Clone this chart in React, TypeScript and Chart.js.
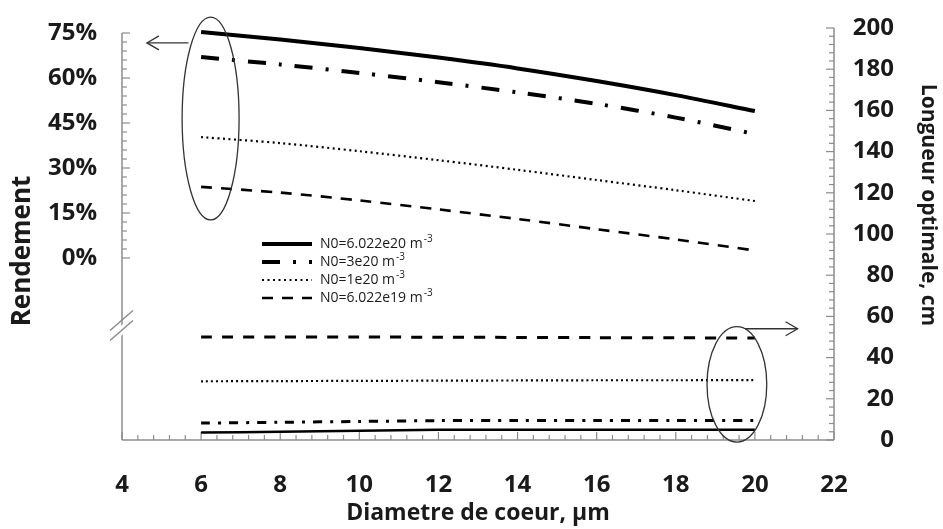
import React, { useEffect, useRef } from 'react';
import { Chart, registerables } from 'chart.js';

Chart.register(...registerables);

// ---------- data ----------
const diametres = [6, 8, 10, 12, 14, 16, 18, 20];
const seriesLabels = ['N0=6.022e20 m-3', 'N0=3e20 m-3', 'N0=1e20 m-3', 'N0=6.022e19 m-3'];

const rendement_6022e20 = [75.3, 72.8, 70.0, 66.8, 63.2, 59.0, 54.3, 49.0];
const rendement_3e20 = [67.0, 64.5, 61.7, 58.6, 55.2, 51.4, 46.8, 41.3];
const rendement_1e20 = [40.3, 38.3, 35.6, 32.6, 29.4, 26.0, 22.6, 19.0];
const rendement_6022e19 = [23.7, 21.8, 19.2, 16.2, 13.0, 9.6, 6.2, 2.5];

const longueur_6022e20 = [3.6, 4.0, 4.5, 5.0, 5.0, 5.0, 5.0, 5.0];
const longueur_3e20 = [8.2, 8.6, 9.0, 9.4, 9.5, 9.5, 9.5, 9.5];
const longueur_1e20 = [28.5, 28.6, 28.7, 28.8, 28.9, 29.0, 29.0, 29.1];
const longueur_6022e19 = [50.0, 50.0, 50.0, 49.9, 49.8, 49.7, 49.6, 49.5];

const rendementTicks = [0, 15, 30, 45, 60, 75];
const xTitle = 'Diametre de coeur, µm';
const leftTitle = 'Rendement';
const rightTitle = 'Longueur optimale, cm';

// ---------- styles ----------
const topStyles = [
  { w: 4, dash: [] as number[] },
  { w: 4, dash: [18, 13, 3, 13] },
  { w: 2.2, dash: [2, 3.5] },
  { w: 2.6, dash: [11, 9] },
];
const bottomStyles = [
  { w: 2.5, dash: [] as number[] },
  { w: 3, dash: [9, 8, 3, 8] },
  { w: 2.2, dash: [2, 3] },
  { w: 3, dash: [11, 10] },
];

const TICK_FONT = { family: '"Open Sans", sans-serif', size: 24, weight: 'bold' as const };
const TEXT = '#1a1a1a';
const AXIS = '#8c8c8c';

const toPts = (ys: number[]) => diametres.map((x, i) => ({ x, y: ys[i] }));

const noPad = (s: any) => {
  s.paddingTop = 0;
  s.paddingBottom = 0;
  s.paddingLeft = 0;
  s.paddingRight = 0;
};

const decorPlugin = {
  id: 'decor',
  beforeDatasetsDraw(chart: any) {
    const { ctx, scales, chartArea: a } = chart;
    const xs = scales.x, yl = scales.y, yr = scales.y2;
    ctx.save();
    ctx.strokeStyle = AXIS;
    ctx.lineWidth = 1.5;
    const ln = (x1: number, y1: number, x2: number, y2: number) => {
      ctx.beginPath(); ctx.moveTo(x1, y1); ctx.lineTo(x2, y2); ctx.stroke();
    };
    // axis lines
    ln(a.left, yl.getPixelForValue(75), a.left, a.bottom);
    ln(a.right, yr.getPixelForValue(200), a.right, a.bottom);
    ln(a.left, a.bottom, a.right, a.bottom);
    ctx.lineWidth = 1.2;
    // x ticks (inside)
    for (let k = 0; k <= 45; k++) {
      const v = 4 + k * 0.4;
      const major = k % 5 === 0;
      const px = xs.getPixelForValue(v);
      ln(px, a.bottom, px, a.bottom - (major ? 8 : 5));
    }
    // left ticks
    for (let k = 0; k <= 25; k++) {
      const v = k * 3;
      const major = k % 5 === 0;
      const py = yl.getPixelForValue(v);
      ln(a.left, py, a.left + (major ? 8 : 5), py);
    }
    // right ticks
    for (let k = 0; k <= 50; k++) {
      const v = k * 4;
      const major = k % 5 === 0;
      const py = yr.getPixelForValue(v);
      ln(a.right, py, a.right - (major ? 8 : 5), py);
    }
    // axis break
    const c = yl.getPixelForValue(-22.5);
    ctx.fillStyle = '#ffffff';
    ctx.beginPath();
    ctx.moveTo(a.left - 3, c + 2); ctx.lineTo(a.left + 3, c - 3);
    ctx.lineTo(a.left + 3, c + 7); ctx.lineTo(a.left - 3, c + 12);
    ctx.closePath(); ctx.fill();
    ctx.strokeStyle = AXIS;
    ctx.lineWidth = 1.5;
    ln(a.left - 12, c + 5, a.left + 11, c - 15);
    ln(a.left - 12, c + 15, a.left + 11, c - 5);
    ctx.restore();
  },
  afterDraw(chart: any) {
    const { ctx, scales, chartArea: a } = chart;
    const xs = scales.x, yl = scales.y, yr = scales.y2;
    ctx.save();
    ctx.strokeStyle = '#333333';
    ctx.lineWidth = 1.3;
    // ellipse around rendement curves (left axis)
    const e1x1 = xs.getPixelForValue(5.52), e1x2 = xs.getPixelForValue(6.96);
    const e1y1 = yl.getPixelForValue(80.3), e1y2 = yl.getPixelForValue(12.7);
    ctx.beginPath();
    ctx.ellipse((e1x1 + e1x2) / 2, (e1y1 + e1y2) / 2, (e1x2 - e1x1) / 2, (e1y2 - e1y1) / 2, 0, 0, Math.PI * 2);
    ctx.stroke();
    // arrow to left
    const ay = yl.getPixelForValue(71.7);
    const ax1 = xs.getPixelForValue(5.68), ax2 = xs.getPixelForValue(4.63);
    ctx.beginPath(); ctx.moveTo(ax1, ay); ctx.lineTo(ax2, ay); ctx.stroke();
    ctx.beginPath(); ctx.moveTo(ax2 + 12, ay - 7); ctx.lineTo(ax2, ay); ctx.lineTo(ax2 + 12, ay + 7); ctx.stroke();
    // ellipse around longueur lines (right axis)
    const e2x1 = xs.getPixelForValue(18.79), e2x2 = xs.getPixelForValue(20.3);
    const e2y1 = yr.getPixelForValue(55), e2y2 = yr.getPixelForValue(-1);
    ctx.beginPath();
    ctx.ellipse((e2x1 + e2x2) / 2, (e2y1 + e2y2) / 2, (e2x2 - e2x1) / 2, (e2y2 - e2y1) / 2, 0, 0, Math.PI * 2);
    ctx.stroke();
    const by = yr.getPixelForValue(54);
    const bx1 = xs.getPixelForValue(19.75), bx2 = xs.getPixelForValue(21.08);
    ctx.beginPath(); ctx.moveTo(bx1, by); ctx.lineTo(bx2, by); ctx.stroke();
    ctx.beginPath(); ctx.moveTo(bx2 - 12, by - 7); ctx.lineTo(bx2, by); ctx.lineTo(bx2 - 12, by + 7); ctx.stroke();

    // legend
    const lx = a.left + 140, tx = a.left + 198;
    const rows = [244, 262, 280, 298];
    chart.data.datasets.slice(0, 4).forEach((ds: any, i: number) => {
      const y = rows[i];
      ctx.strokeStyle = '#000';
      ctx.lineWidth = ds.borderWidth;
      ctx.setLineDash(ds.borderDash || []);
      ctx.beginPath(); ctx.moveTo(lx, y); ctx.lineTo(lx + 50, y); ctx.stroke();
      ctx.setLineDash([]);
      const label: string = ds.label;
      const base = label.slice(0, -2);
      const sup = label.slice(-2);
      ctx.fillStyle = TEXT;
      ctx.textBaseline = 'middle';
      ctx.textAlign = 'left';
      ctx.font = '14px "Open Sans", sans-serif';
      ctx.fillText(base, tx, y);
      const w = ctx.measureText(base).width;
      ctx.font = '10px "Open Sans", sans-serif';
      ctx.fillText(sup, tx + w + 1, y - 5);
    });

    // vertical axis titles
    ctx.fillStyle = TEXT;
    ctx.textAlign = 'center';
    ctx.textBaseline = 'middle';
    ctx.save();
    ctx.translate(23, 251);
    ctx.rotate(-Math.PI / 2);
    ctx.font = 'bold 26px "Open Sans", sans-serif';
    ctx.fillText(leftTitle, 0, 0);
    ctx.restore();
    ctx.save();
    ctx.translate(928, 205);
    ctx.rotate(Math.PI / 2);
    ctx.font = 'bold 21px "Open Sans", sans-serif';
    ctx.fillText(rightTitle, 0, 0);
    ctx.restore();
    ctx.restore();
  },
};

export default function App() {
  const ref = useRef<HTMLCanvasElement>(null);
  useEffect(() => {
    if (!ref.current) return;
    const mk = (label: string, ys: number[], st: { w: number; dash: number[] }, axis: string) => ({
      label,
      data: toPts(ys),
      yAxisID: axis,
      borderColor: '#000000',
      backgroundColor: '#000000',
      borderWidth: st.w,
      borderDash: st.dash,
      pointRadius: 0,
      fill: false,
      tension: 0.3,
      clip: false as const,
    });
    const chart = new Chart(ref.current, {
      type: 'line',
      data: {
        datasets: [
          mk(seriesLabels[0], rendement_6022e20, topStyles[0], 'y'),
          mk(seriesLabels[1], rendement_3e20, topStyles[1], 'y'),
          mk(seriesLabels[2], rendement_1e20, topStyles[2], 'y'),
          mk(seriesLabels[3], rendement_6022e19, topStyles[3], 'y'),
          mk(seriesLabels[0], longueur_6022e20, bottomStyles[0], 'y2'),
          mk(seriesLabels[1], longueur_3e20, bottomStyles[1], 'y2'),
          mk(seriesLabels[2], longueur_1e20, bottomStyles[2], 'y2'),
          mk(seriesLabels[3], longueur_6022e19, bottomStyles[3], 'y2'),
        ],
      },
      options: {
        responsive: false,
        animation: false,
        layout: { padding: { top: 28, left: 0, right: 49, bottom: 0 } },
        plugins: { legend: { display: false }, tooltip: { enabled: false } },
        scales: {
          x: {
            type: 'linear',
            min: 4,
            max: 22,
            grid: { display: false, drawTicks: false },
            border: { display: false },
            ticks: { stepSize: 2, font: TICK_FONT, color: TEXT, padding: 31, maxRotation: 0 },
            title: {
              display: true,
              text: xTitle,
              font: { family: '"Open Sans", sans-serif', size: 23, weight: 'bold', lineHeight: 1 },
              color: TEXT,
              padding: { top: 0, bottom: 4 },
            },
            afterFit: (s: any) => { s.height = 89; noPad(s); },
          },
          y: {
            type: 'linear',
            position: 'left',
            min: -60.667,
            max: 76.667,
            grid: { display: false, drawTicks: false },
            border: { display: false },
            afterBuildTicks: (s: any) => { s.ticks = rendementTicks.map((v) => ({ value: v })); },
            ticks: { font: TICK_FONT, color: TEXT, padding: 25, callback: (v: any) => `${v}%` },
            afterFit: (s: any) => { s.width = 122; noPad(s); },
          },
          y2: {
            type: 'linear',
            position: 'right',
            min: 0,
            max: 200,
            grid: { display: false, drawTicks: false },
            border: { display: false },
            ticks: { stepSize: 20, font: TICK_FONT, color: TEXT, padding: 16, crossAlign: 'far' },
            afterFit: (s: any) => { s.width = 60; noPad(s); },
          },
        },
      },
      plugins: [decorPlugin],
    });
    return () => chart.destroy();
  }, []);
  return (
    <div style={{ position: 'absolute', left: 0, top: 0, width: 943, height: 529, background: '#fff' }}>
      <canvas ref={ref} width={943} height={529} />
    </div>
  );
}
